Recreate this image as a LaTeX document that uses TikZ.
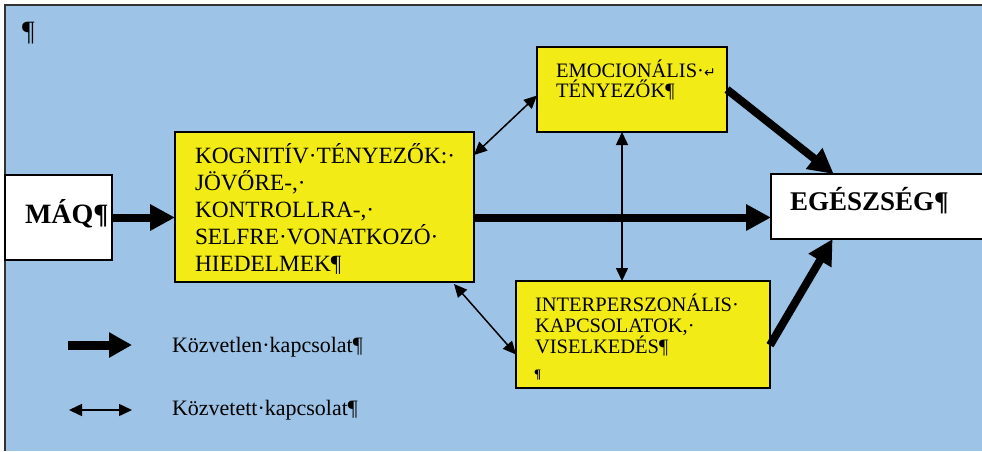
\documentclass[tikz,border=0pt]{standalone}
\usepackage{fontspec}
\setmainfont{Liberation Serif}
\newfontfamily\djv{DejaVu Sans}
\usetikzlibrary{arrows.meta,calc}
\definecolor{bgblue}{RGB}{157,195,230}
\definecolor{boxyellow}{RGB}{242,235,22}
\begin{document}
\begin{tikzpicture}[x=1pt,y=-1pt,
  ybox/.style={draw=black,line width=1.5pt,fill=boxyellow,anchor=north west,inner sep=0pt,outer sep=0pt},
  wbox/.style={draw=black,line width=1.5pt,fill=white,anchor=north west,inner sep=0pt,outer sep=0pt},
  txt/.style={anchor=base west,inner sep=0pt,outer sep=0pt},
  thickarrow/.style={-{Triangle[length=25pt,width=25pt]},line width=8pt},
  legthick/.style={-{Triangle[length=23pt,width=24pt]},line width=9pt},
  thinarrow/.style={{Triangle[length=13pt,width=12pt]}-{Triangle[length=13pt,width=12pt]},line width=1.5pt}]
\useasboundingbox (0,0) rectangle (982,451);
\fill[white] (0,0) rectangle (982,451);
\fill[bgblue] (5,5) rectangle (982,451);
\draw[line width=1.5pt,black!80] (5,451) -- (5,5) -- (982,5);

% boxes
\node[wbox,minimum width=107pt,minimum height=85pt] (maq) at (5,175) {};
\node[ybox,minimum width=299pt,minimum height=150pt] (kog) at (175,132) {};
\node[ybox,minimum width=190pt,minimum height=85pt] (emo) at (537,47) {};
\node[ybox,minimum width=254pt,minimum height=107pt] (inter) at (516,281) {};
\node[wbox,minimum width=220pt,minimum height=65pt] (eg) at (771,174) {};

% texts
\node[txt] (pil) at (22,40) {\fontsize{28}{30}\selectfont ¶};
\node[txt] (maqtxt) at (25,223) {\fontsize{28}{32}\selectfont\bfseries MÁQ¶};
\node[txt] (kogtxt) at (195,163) {\parbox[t]{290pt}{\fontsize{23.3}{27.2}\selectfont\raggedright KOGNITÍV·TÉNYEZŐK:·\\JÖVŐRE-,·\\KONTROLLRA-,·\\SELFRE·VONATKOZÓ·\\HIEDELMEK¶}};
\node[txt] (emotxt) at (556,77) {\parbox[t]{180pt}{\fontsize{20.5}{20.5}\selectfont\raggedright EMOCIONÁLIS·{\djv\fontsize{14}{14}\selectfont ↵}\\TÉNYEZŐK¶}};
\node[txt] (intertxt) at (535,311) {\parbox[t]{230pt}{\fontsize{20.5}{21}\selectfont\raggedright INTERPERSZONÁLIS·\\KAPCSOLATOK,·\\VISELKEDÉS¶}};
\node[txt] (intermark) at (534,378) {\fontsize{13}{14}\selectfont\bfseries ¶};
\node[txt] (egtxt) at (790,210) {\fontsize{27}{31}\selectfont\bfseries EGÉSZSÉG¶};

% direct (thick) connections
\draw[thickarrow] (maq.east) -- (kog.west |- maq.east);
\draw[thickarrow] (kog.east |- maq.east) -- (eg.west |- maq.east);
\draw[thickarrow] (emo.east) -- ($(eg.north west)!0.285!(eg.north east)$);
\draw[thickarrow] ($(inter.south east)!0.4!(inter.north east)$) -- ($(eg.south west)!0.28!(eg.south east)$);

% indirect (thin) connections
\coordinate (vtop) at ($(emo.south)+(-10,0)$);
\draw[thinarrow] ($(kog.north east)+(0,23)$) -- ($(emo.west)+(0,6)$);
\draw[thinarrow] (vtop) -- (vtop |- inter.north);
\draw[thinarrow] ($(kog.south east)+(-20,2)$) -- ($(inter.west)+(0,20)$);

% legend
\coordinate (l1a) at (68,345);
\coordinate (l1b) at (132,345);
\coordinate (l2a) at (69,410);
\coordinate (l2b) at (132,410);
\draw[legthick] (l1a) -- (l1b);
\draw[thinarrow] (l2a) -- (l2b);
\node[txt] (leg1) at (172,352) {\fontsize{22}{24}\selectfont Közvetlen·kapcsolat¶};
\node[txt] (leg2) at (172,415) {\fontsize{22}{24}\selectfont Közvetett·kapcsolat¶};
\end{tikzpicture}
\end{document}
